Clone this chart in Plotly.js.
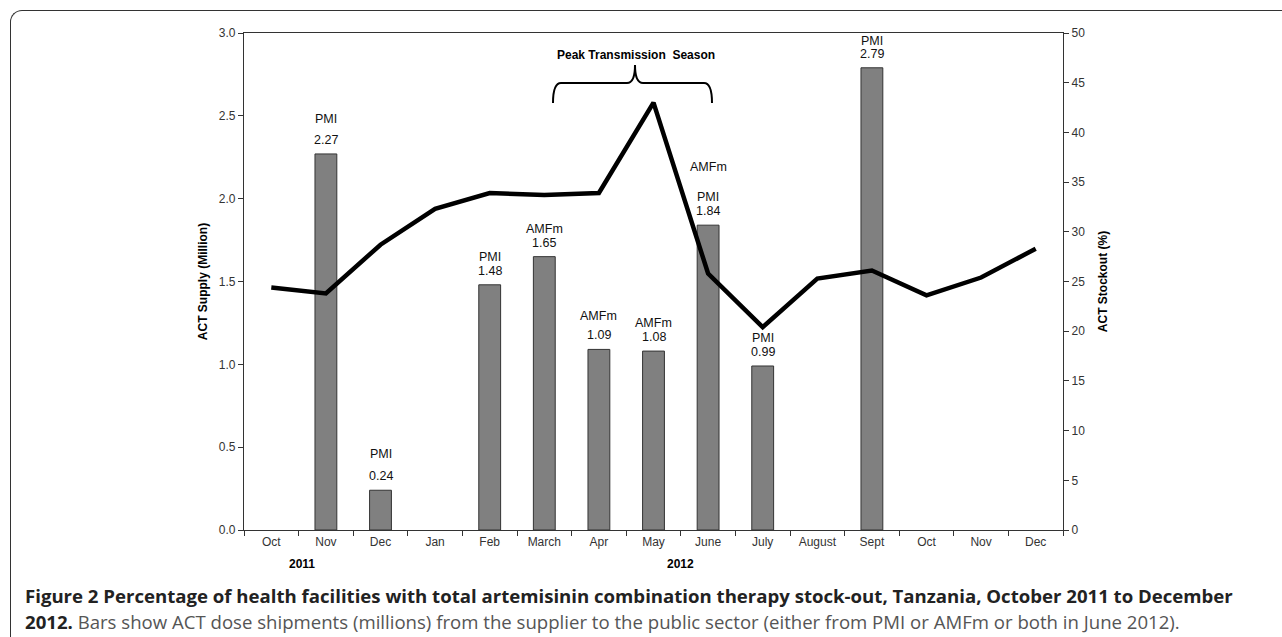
<!DOCTYPE html>
<html>
<head>
<meta charset="utf-8">
<script src="https://cdn.plot.ly/plotly-3.0.1.min.js"></script>
<style>
  html, body { margin: 0; padding: 0; background: #fff; }
  #wrap { position: relative; width: 1282px; height: 637px; overflow: hidden; }
  #chart { width: 1282px; height: 637px; }
  #frame { position: absolute; left: 10px; top: 10px; width: 1400px; height: 800px;
           border-top: 1.5px solid #333; border-left: 1.5px solid #333;
           border-top-left-radius: 12px; pointer-events: none; }
</style>
</head>
<body>
<div id="wrap">
  <div id="chart"></div>
  <div id="frame"></div>
</div>
<script>
// ---- data ----
var monthIds = ["Oct 2011","Nov 2011","Dec 2011","Jan 2012","Feb 2012","Mar 2012","Apr 2012","May 2012",
                "Jun 2012","Jul 2012","Aug 2012","Sep 2012","Oct 2012","Nov 2012","Dec 2012"];
var monthLabels = ["Oct","Nov","Dec","Jan","Feb","March","Apr","May","June","July","August","Sept","Oct","Nov","Dec"];
var supplyMillion = [null, 2.27, 0.24, null, 1.48, 1.65, 1.09, 1.08, 1.84, 0.99, null, 2.79, null, null, null];
var supplySource = [[], ["PMI"], ["PMI"], [], ["PMI"], ["AMFm"], ["AMFm"], ["AMFm"], ["PMI","AMFm"], ["PMI"], [], ["PMI"], [], [], []];
var stockoutPct = [24.4, 23.8, 28.7, 32.3, 33.9, 33.7, 33.9, 43.0, 25.8, 20.4, 25.3, 26.1, 23.6, 25.4, 28.3];
var yearLabels = ["2011", "2012"];

// ---- style ----
var FONT = "Liberation Sans, Arial, sans-serif";
var L = 244, R = 1063, T = 33, B = 530;
function px(x){ return (x - L) / (R - L); }
function py(y){ return (B - y) / (B - T); }
// vertical gap (px) between value label and source label, per month
var srcGap = {"Nov 2011": 21, "Dec 2011": 22, "Apr 2012": 19, "Sep 2012": 13};
var valueShift = 5;

var traces = [
  {
    type: "bar", x: monthIds, y: supplyMillion, width: 0.4,
    marker: {color: "#808080", line: {color: "#333", width: 1}},
    hoverinfo: "x+y", showlegend: false
  },
  {
    type: "scatter", mode: "lines", x: monthIds, y: stockoutPct, yaxis: "y2",
    line: {color: "#000", width: 4.5}, hoverinfo: "x+y", showlegend: false
  }
];

var annotations = [];
for (var i = 0; i < monthIds.length; i++) {
  if (supplyMillion[i] == null) continue;
  annotations.push({
    x: monthIds[i], y: supplyMillion[i], xref: "x", yref: "y",
    text: supplyMillion[i].toFixed(2), showarrow: false, xanchor: "center", yanchor: "bottom", yshift: valueShift,
    font: {family: FONT, size: 12.5, color: "#111"}
  });
  var gap = srcGap[monthIds[i]] || 14;
  var shift = valueShift + gap;
  for (var j = 0; j < supplySource[i].length; j++) {
    annotations.push({
      x: monthIds[i], y: supplyMillion[i], xref: "x", yref: "y",
      text: supplySource[i][j], showarrow: false, xanchor: "center", yanchor: "bottom", yshift: shift,
      font: {family: FONT, size: 12.5, color: "#111"}
    });
    shift += 30;
  }
}
function paperText(x, y, text, font, xanchor) {
  annotations.push({
    xref: "paper", yref: "paper", x: px(x), y: py(y), text: text, showarrow: false,
    xanchor: xanchor || "center", yanchor: "middle", font: font
  });
}
paperText(636, 55, "<b>Peak Transmission  Season</b>", {family: FONT, size: 12, color: "#000"});
paperText(302, 564, "<b>" + yearLabels[0] + "</b>", {family: FONT, size: 12, color: "#000"});
paperText(680, 564, "<b>" + yearLabels[1] + "</b>", {family: FONT, size: 12, color: "#000"});
paperText(23, 595,
  "<b>Figure 2 Percentage of health facilities with total artemisinin combination therapy stock-out, Tanzania, October 2011 to December</b>",
  {family: "Open Sans, sans-serif", size: 18.6, color: "#222"}, "left");
paperText(23, 621,
  "<b>2012.</b> <span style='color:#555'>Bars show ACT dose shipments (millions) from the supplier to the public sector (either from PMI or AMFm or both in June 2012).</span>",
  {family: "Open Sans, sans-serif", size: 18.6, color: "#222"}, "left");

var brace = "M " + px(553) + "," + py(103) +
  " Q " + px(553) + "," + py(83) + " " + px(561) + "," + py(83) +
  " L " + px(627) + "," + py(83) +
  " Q " + px(635) + "," + py(83) + " " + px(635) + "," + py(65) +
  " Q " + px(635) + "," + py(83) + " " + px(643) + "," + py(83) +
  " L " + px(704) + "," + py(83) +
  " Q " + px(712) + "," + py(83) + " " + px(712) + "," + py(103);

var layout = {
  width: 1282, height: 637,
  margin: {l: L, r: 1282 - R, t: T, b: 637 - B, pad: 0},
  paper_bgcolor: "#fff", plot_bgcolor: "#fff",
  font: {family: FONT, size: 12, color: "#333"},
  bargap: 0.6,
  xaxis: {
    type: "category", tickmode: "array", tickvals: monthIds, ticktext: monthLabels,
    tickson: "boundaries", ticks: "outside", ticklen: 5, tickcolor: "#333",
    showline: true, linecolor: "#333", linewidth: 1.2, mirror: true,
    showgrid: false, zeroline: false, tickfont: {family: FONT, size: 12, color: "#333"}
  },
  yaxis: {
    range: [0, 3], dtick: 0.5, tickformat: ".1f", ticks: "outside", ticklen: 5, tickcolor: "#333",
    showline: true, linecolor: "#333", linewidth: 1.2, showgrid: false, zeroline: false,
    tickfont: {family: FONT, size: 12, color: "#333"},
    title: {text: "<b>ACT Supply (Million)</b>", font: {family: FONT, size: 12, color: "#000"}, standoff: 8}
  },
  yaxis2: {
    range: [0, 50], dtick: 5, overlaying: "y", side: "right", ticks: "outside", ticklen: 5, tickcolor: "#333",
    showline: true, linecolor: "#333", linewidth: 1.2, showgrid: false, zeroline: false,
    tickfont: {family: FONT, size: 12, color: "#333"},
    title: {text: "<b>ACT Stockout (%)</b>", font: {family: FONT, size: 12, color: "#000"}, standoff: 14}
  },
  shapes: [
    {type: "path", xref: "paper", yref: "paper", path: brace, line: {color: "#000", width: 2}}
  ],
  annotations: annotations
};

Plotly.newPlot("chart", traces, layout, {displayModeBar: false, staticPlot: true});
</script>
</body>
</html>
